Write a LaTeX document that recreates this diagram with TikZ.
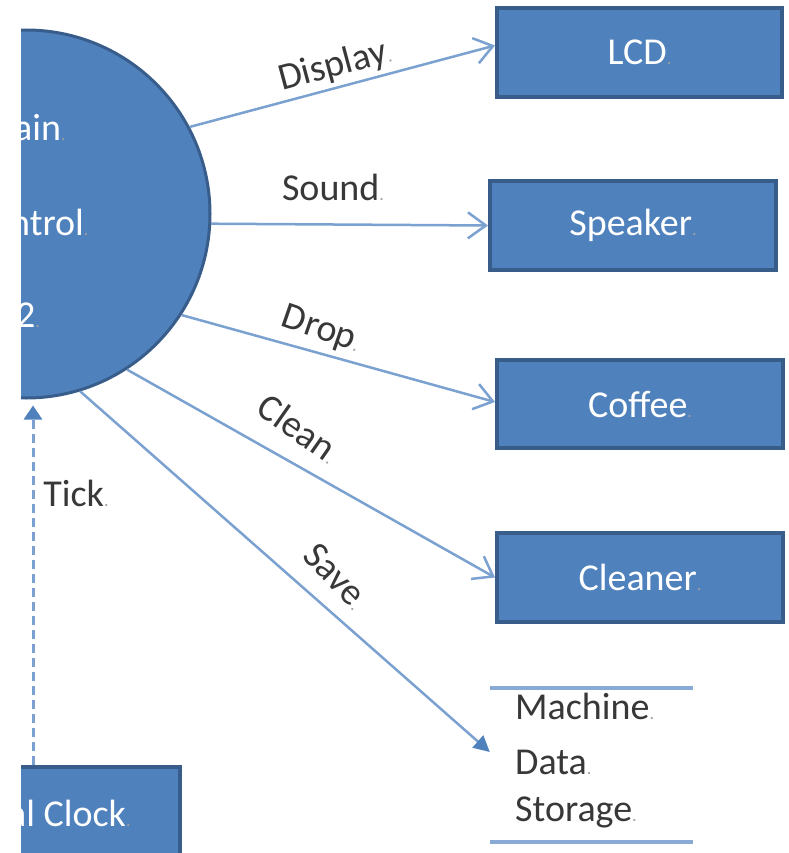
\documentclass[tikz,border=0pt]{standalone}
\usepackage{fontspec}
\setmainfont{Carlito}
\usetikzlibrary{arrows.meta,calc}
\definecolor{boxfill}{HTML}{4F81BD}
\definecolor{boxline}{HTML}{385D8A}
\definecolor{conn}{HTML}{7BA1D0}
\definecolor{labtxt}{HTML}{383838}
\definecolor{pmark}{HTML}{A0A0A0}
\newcommand{\parmark}{{\fontsize{18}{18}\selectfont\color{pmark}.}}
\begin{document}
\begin{tikzpicture}[x=1pt,y=-1pt,
  box/.style={draw=boxline,fill=boxfill,line width=4pt,text=white,
              font=\fontsize{38}{40}\selectfont,inner sep=0},
  intext/.style={text=white,font=\fontsize{38}{40}\selectfont,inner sep=0,anchor=west},
  lbl/.style={text=labtxt,font=\fontsize{38}{40}\selectfont,inner sep=0},
  flow/.style={draw=conn,line width=2.5pt,
               -{Straight Barb[length=18pt,width=26pt,line width=2.5pt]}},
  savef/.style={draw=conn,line width=2.5pt,
               -{Triangle[length=16pt,width=16pt,color=boxfill]}},
  tickf/.style={draw=conn,line width=3pt,dash pattern=on 9pt off 5pt,
               shorten >=6pt,
               -{Triangle[length=14pt,width=18pt,color=boxfill]}},
  storeline/.style={draw=conn!90!white,line width=3.5pt}]
\useasboundingbox (0,0) rectangle (788,853);
\fill[white] (0,0) rectangle (788,853);
\begin{scope}
\clip (21,0) rectangle (788,853);
% main process
\node[circle,draw=boxline,fill=boxfill,line width=3pt,minimum size=368pt,inner sep=0] (main) at (26,214) {};
\node[intext] (m1) at (14,128) {ain\parmark};
\node[intext] (m2) at (10,222) {ntrol\parmark};
\node[intext] (m3) at (16,315) {2\parmark};
% clock
\node[box,minimum width=310pt,minimum height=173pt] (clock) at (25,853.5) {};
\node[intext] (ctext) at (8,813) {al Clock\parmark};
\coordinate (tk) at (33,0);
\draw[tickf] (tk |- clock.north) -- (tk |- main.south);
\end{scope}
% external boxes
\node[box,minimum width=285pt,minimum height=89pt] (lcd) at (639.5,52.5) {LCD\parmark};
\node[box,minimum width=286pt,minimum height=89pt] (spk) at (633,225.5) {Speaker\parmark};
\node[box,minimum width=286pt,minimum height=88pt] (cof) at (640,404) {Coffee\parmark};
\node[box,minimum width=286pt,minimum height=89pt] (cln) at (640,577.5) {Cleaner\parmark};
% data store
\node[minimum width=203pt,minimum height=154pt,inner sep=0] (store) at (591.5,765) {};
\draw[storeline] (store.north west) -- (store.north east);
\draw[storeline] (store.south west) -- (store.south east);
\node[lbl,anchor=west] (s1) at (515,706) {Machine\parmark};
\node[lbl,anchor=west] (s2) at (515,762) {Data\parmark};
\node[lbl,anchor=west] (s3) at (515,812) {Storage\parmark};
% flows
\draw[flow] (main.28) -- ($(lcd.west)+(0,-7)$);
\draw[flow] (main.-3) -- (spk.west);
\draw[flow] (main.-33) -- ($(cof.west)+(0,-2)$);
\draw[flow] (main.-57) -- (cln.west);
\draw[savef] (main.-73) -- ($(store.west)+(0,-13)$);
% labels
\node[lbl,rotate=15] (lD) at (335,66) {Display\parmark};
\node[lbl] (lS) at (333,187) {Sound\parmark};
\node[lbl,rotate=-19] (lDr) at (321,330) {Drop\parmark};
\node[lbl,rotate=-35] (lC) at (299,428) {Clean\parmark};
\node[lbl,rotate=-46] (lSv) at (336,576) {Save\parmark};
\node[lbl] (lT) at (76,493) {Tick\parmark};
\end{tikzpicture}
\end{document}
